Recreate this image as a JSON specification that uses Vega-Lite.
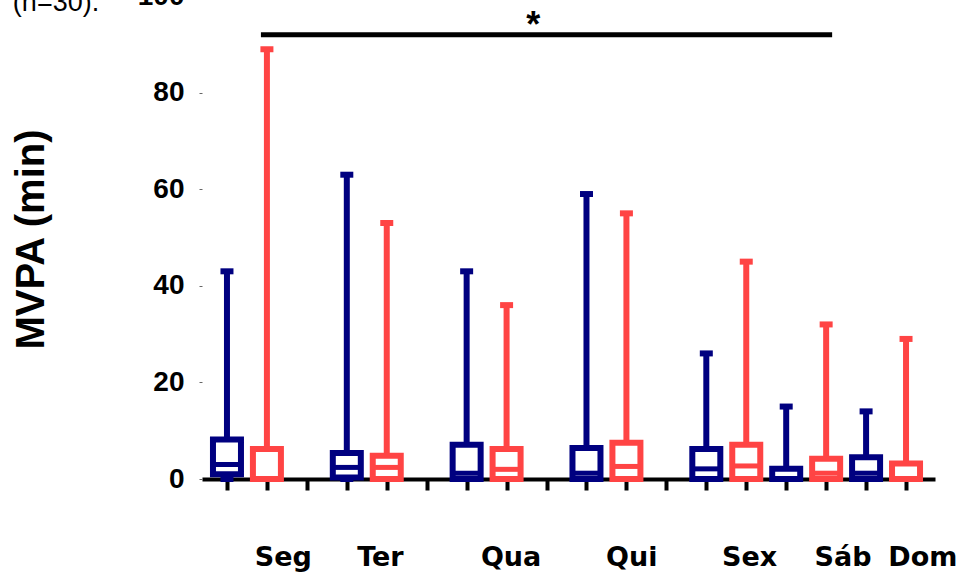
{
  "$schema": "https://vega.github.io/schema/vega-lite/v6.json",
  "width": 733,
  "height": 483,
  "autosize": {"type": "none"},
  "padding": {"left": 202, "top": -4, "right": 31, "bottom": 95},
  "background": "white",
  "config": {"view": {"stroke": null}, "font": "Liberation Sans"},
  "datasets": {
    "boxes": [
      {"slot": 0, "day": "Seg", "grp": "A", "min": 0, "q1": 1, "median": 3, "q3": 8.2, "max": 43},
      {"slot": 1, "day": "Seg", "grp": "B", "min": 0, "q1": 0, "median": 0, "q3": 6.2, "max": 89},
      {"slot": 3, "day": "Ter", "grp": "A", "min": 0, "q1": 0.3, "median": 2.4, "q3": 5.4, "max": 63},
      {"slot": 4, "day": "Ter", "grp": "B", "min": 0, "q1": 0, "median": 2.4, "q3": 4.8, "max": 53},
      {"slot": 6, "day": "Qua", "grp": "A", "min": 0, "q1": 0, "median": 1.2, "q3": 7.1, "max": 43},
      {"slot": 7, "day": "Qua", "grp": "B", "min": 0, "q1": 0, "median": 2.0, "q3": 6.2, "max": 36},
      {"slot": 9, "day": "Qui", "grp": "A", "min": 0, "q1": 0, "median": 1.2, "q3": 6.4, "max": 59},
      {"slot": 10, "day": "Qui", "grp": "B", "min": 0, "q1": 0, "median": 2.6, "q3": 7.5, "max": 55},
      {"slot": 12, "day": "Sex", "grp": "A", "min": 0, "q1": 0, "median": 2.1, "q3": 6.2, "max": 26},
      {"slot": 13, "day": "Sex", "grp": "B", "min": 0, "q1": 0, "median": 2.7, "q3": 7.1, "max": 45},
      {"slot": 14, "day": "Sáb", "grp": "A", "min": 0, "q1": 0, "median": 0, "q3": 2.1, "max": 15},
      {"slot": 15, "day": "Sáb", "grp": "B", "min": 0, "q1": 0, "median": 1.2, "q3": 4.2, "max": 32},
      {"slot": 16, "day": "Dom", "grp": "A", "min": 0, "q1": 0, "median": 1.2, "q3": 4.5, "max": 14},
      {"slot": 17, "day": "Dom", "grp": "B", "min": 0, "q1": 0, "median": 0, "q3": 3.2, "max": 29}
    ],
    "sig": [{"from": 0.85, "to": 15.15, "y": 92, "star_x": 7.67, "star_y": 91.5, "mark": "*"}],
    "note": [{"text": "(n=30)."}]
  },
  "layer": [
    {
      "data": {"name": "boxes"},
      "mark": {"type": "rule", "strokeWidth": 6, "opacity": 1},
      "encoding": {
        "x": {"field": "slot", "type": "quantitative", "scale": {"domain": [-0.5, 17.6], "nice": false, "zero": false},
          "axis": {"orient": "bottom", "values": [0,1,2,3,4,5,6,7,8,9,10,11,12,13,14,15,16,17], "labels": false, "domain": true, "domainColor": "black", "domainWidth": 4, "ticks": true, "tickColor": "black", "tickWidth": 4, "tickSize": 11, "grid": false, "title": null}},
        "y": {"field": "min", "type": "quantitative", "scale": {"domain": [0, 100], "nice": false, "zero": false},
          "axis": {"values": [0, 20, 40, 60, 80, 100], "domain": false, "grid": false, "ticks": true, "tickSize": 3, "tickColor": "#666666", "tickWidth": 1, "labelFont": "Liberation Sans", "labelFontSize": 28, "labelFontWeight": "bold", "labelColor": "black", "labelPadding": 15, "title": "MVPA (min)", "titleFont": "Liberation Sans", "titleFontSize": 40, "titleFontWeight": "bold", "titleColor": "black", "titleX": -171, "titleY": 243, "titleAngle": -90, "titleAlign": "center", "titleBaseline": "middle"}},
        "y2": {"field": "max"},
        "color": {"field": "grp", "type": "nominal", "scale": {"domain": ["A", "B"], "range": ["#000080", "#ff4444"]}, "legend": null}
      }
    },
    {
      "data": {"name": "boxes"},
      "mark": {"type": "tick", "orient": "horizontal", "size": 13, "thickness": 6, "opacity": 1},
      "encoding": {
        "x": {"field": "slot", "type": "quantitative"},
        "y": {"field": "min", "type": "quantitative"},
        "color": {"field": "grp", "type": "nominal", "legend": null}
      }
    },
    {
      "data": {"name": "boxes"},
      "mark": {"type": "bar", "width": 28, "fill": "white", "strokeWidth": 6, "opacity": 1, "fillOpacity": 1, "strokeOpacity": 1},
      "encoding": {
        "x": {"field": "slot", "type": "quantitative"},
        "y": {"field": "q1", "type": "quantitative"},
        "y2": {"field": "q3"},
        "stroke": {"field": "grp", "type": "nominal", "scale": {"domain": ["A", "B"], "range": ["#000080", "#ff4444"]}, "legend": null}
      }
    },
    {
      "data": {"name": "boxes"},
      "mark": {"type": "tick", "orient": "horizontal", "size": 28, "thickness": 5, "opacity": 1},
      "encoding": {
        "x": {"field": "slot", "type": "quantitative"},
        "y": {"field": "median", "type": "quantitative"},
        "color": {"field": "grp", "type": "nominal", "legend": null}
      }
    },
    {
      "data": {"name": "boxes"},
      "mark": {"type": "tick", "orient": "horizontal", "size": 13, "thickness": 6, "opacity": 1},
      "encoding": {
        "x": {"field": "slot", "type": "quantitative"},
        "y": {"field": "max", "type": "quantitative"},
        "color": {"field": "grp", "type": "nominal", "legend": null}
      }
    },
    {
      "data": {"name": "sig"},
      "mark": {"type": "rule", "strokeWidth": 5, "color": "black"},
      "encoding": {
        "x": {"field": "from", "type": "quantitative",
          "axis": {"orient": "bottom", "values": [1.4, 3.83, 7.1, 10.12, 13.07, 15.41, 17.41], "labelExpr": "['Seg','Ter','Qua','Qui','Sex','Sáb','Dom'][indexof([1.4, 3.83, 7.1, 10.12, 13.07, 15.41, 17.41], datum.value)]", "domain": false, "ticks": false, "tickSize": 0, "grid": false, "labelFont": "DejaVu Sans", "labelFontSize": 27, "labelFontWeight": "bold", "labelColor": "black", "labelPadding": 86, "labelBaseline": "alphabetic", "labelAlign": "center", "title": null}},
        "x2": {"field": "to"},
        "y": {"field": "y", "type": "quantitative"}
      }
    },
    {
      "data": {"name": "sig"},
      "mark": {"type": "text", "fontSize": 36, "fontWeight": "bold", "font": "Liberation Sans", "baseline": "alphabetic", "align": "center", "color": "black"},
      "encoding": {
        "x": {"field": "star_x", "type": "quantitative"},
        "y": {"field": "star_y", "type": "quantitative"},
        "text": {"field": "mark"}
      }
    },
    {
      "data": {"name": "note"},
      "mark": {"type": "text", "fontSize": 27, "fontWeight": "normal", "font": "Liberation Sans", "baseline": "alphabetic", "align": "left", "color": "black", "clip": false},
      "encoding": {
        "x": {"datum": -5.36, "type": "quantitative"},
        "y": {"datum": 96.9, "type": "quantitative"},
        "text": {"field": "text"}
      }
    }
  ],
  "resolve": {"axis": {"x": "independent"}}
}
